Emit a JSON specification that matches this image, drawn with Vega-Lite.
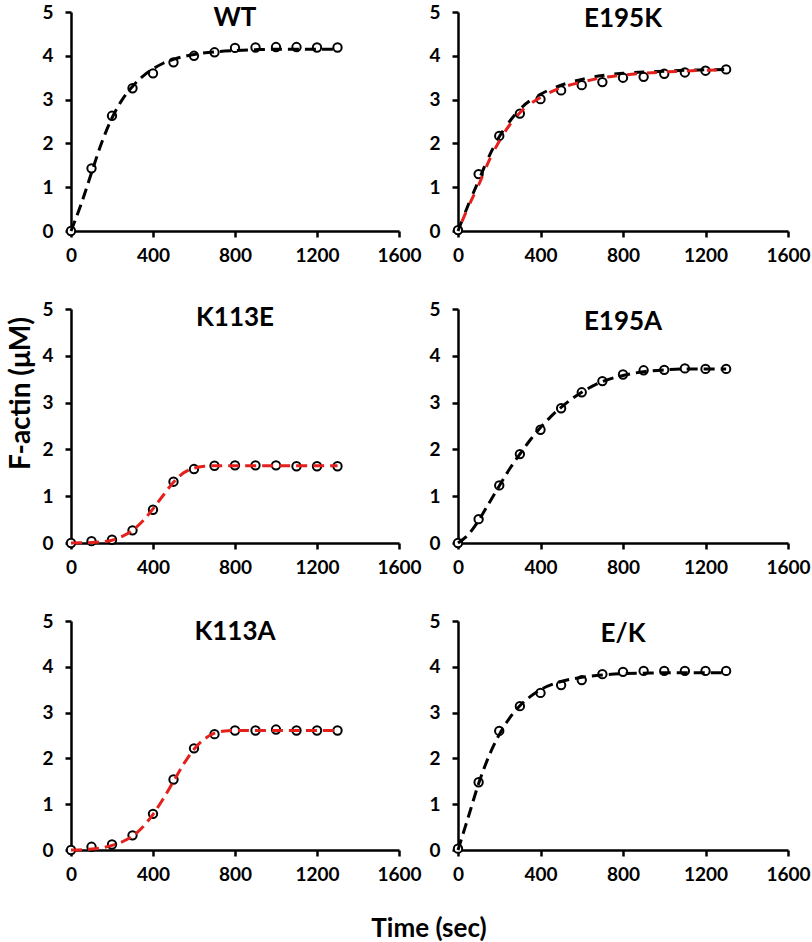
{
"$schema": "https://vega.github.io/schema/vega-lite/v6.json",
"padding": {"left": 7, "top": 3, "right": 2, "bottom": 0},
"background": "white",
"datasets": {
"titles": [{"panel":"WT"},{"panel":"E195K"},{"panel":"K113E"},{"panel":"E195A"},{"panel":"K113A"},{"panel":"E/K"}],
"points": [
{"panel":"WT","time":0,"factin":0},{"panel":"WT","time":100,"factin":1.43},{"panel":"WT","time":200,"factin":2.63},{"panel":"WT","time":300,"factin":3.26},{"panel":"WT","time":400,"factin":3.6},{"panel":"WT","time":500,"factin":3.85},{"panel":"WT","time":600,"factin":4.0},{"panel":"WT","time":700,"factin":4.08},{"panel":"WT","time":800,"factin":4.18},{"panel":"WT","time":900,"factin":4.19},{"panel":"WT","time":1000,"factin":4.2},{"panel":"WT","time":1100,"factin":4.2},{"panel":"WT","time":1200,"factin":4.19},{"panel":"WT","time":1300,"factin":4.19},
{"panel":"E195K","time":0,"factin":0.02},{"panel":"E195K","time":100,"factin":1.3},{"panel":"E195K","time":200,"factin":2.17},{"panel":"E195K","time":300,"factin":2.68},{"panel":"E195K","time":400,"factin":3.01},{"panel":"E195K","time":500,"factin":3.21},{"panel":"E195K","time":600,"factin":3.33},{"panel":"E195K","time":700,"factin":3.4},{"panel":"E195K","time":800,"factin":3.5},{"panel":"E195K","time":900,"factin":3.52},{"panel":"E195K","time":1000,"factin":3.59},{"panel":"E195K","time":1100,"factin":3.62},{"panel":"E195K","time":1200,"factin":3.66},{"panel":"E195K","time":1300,"factin":3.69},
{"panel":"K113E","time":0,"factin":0},{"panel":"K113E","time":100,"factin":0.04},{"panel":"K113E","time":200,"factin":0.07},{"panel":"K113E","time":300,"factin":0.27},{"panel":"K113E","time":400,"factin":0.71},{"panel":"K113E","time":500,"factin":1.31},{"panel":"K113E","time":600,"factin":1.58},{"panel":"K113E","time":700,"factin":1.65},{"panel":"K113E","time":800,"factin":1.66},{"panel":"K113E","time":900,"factin":1.66},{"panel":"K113E","time":1000,"factin":1.66},{"panel":"K113E","time":1100,"factin":1.64},{"panel":"K113E","time":1200,"factin":1.64},{"panel":"K113E","time":1300,"factin":1.64},
{"panel":"E195A","time":0,"factin":0},{"panel":"E195A","time":100,"factin":0.51},{"panel":"E195A","time":200,"factin":1.23},{"panel":"E195A","time":300,"factin":1.9},{"panel":"E195A","time":400,"factin":2.42},{"panel":"E195A","time":500,"factin":2.88},{"panel":"E195A","time":600,"factin":3.22},{"panel":"E195A","time":700,"factin":3.46},{"panel":"E195A","time":800,"factin":3.6},{"panel":"E195A","time":900,"factin":3.69},{"panel":"E195A","time":1000,"factin":3.7},{"panel":"E195A","time":1100,"factin":3.73},{"panel":"E195A","time":1200,"factin":3.72},{"panel":"E195A","time":1300,"factin":3.72},
{"panel":"K113A","time":0,"factin":0},{"panel":"K113A","time":100,"factin":0.07},{"panel":"K113A","time":200,"factin":0.12},{"panel":"K113A","time":300,"factin":0.32},{"panel":"K113A","time":400,"factin":0.79},{"panel":"K113A","time":500,"factin":1.54},{"panel":"K113A","time":600,"factin":2.22},{"panel":"K113A","time":700,"factin":2.53},{"panel":"K113A","time":800,"factin":2.61},{"panel":"K113A","time":900,"factin":2.61},{"panel":"K113A","time":1000,"factin":2.63},{"panel":"K113A","time":1100,"factin":2.61},{"panel":"K113A","time":1200,"factin":2.61},{"panel":"K113A","time":1300,"factin":2.61},
{"panel":"E/K","time":0,"factin":0.03},{"panel":"E/K","time":100,"factin":1.48},{"panel":"E/K","time":200,"factin":2.6},{"panel":"E/K","time":300,"factin":3.14},{"panel":"E/K","time":400,"factin":3.43},{"panel":"E/K","time":500,"factin":3.6},{"panel":"E/K","time":600,"factin":3.71},{"panel":"E/K","time":700,"factin":3.84},{"panel":"E/K","time":800,"factin":3.89},{"panel":"E/K","time":900,"factin":3.91},{"panel":"E/K","time":1000,"factin":3.91},{"panel":"E/K","time":1100,"factin":3.91},{"panel":"E/K","time":1200,"factin":3.91},{"panel":"E/K","time":1300,"factin":3.91}
],
"fits": [
{"panel":"WT","curve":"black","time":0,"factin":0},{"panel":"WT","curve":"black","time":50,"factin":0.62},{"panel":"WT","curve":"black","time":100,"factin":1.33},{"panel":"WT","curve":"black","time":150,"factin":2.02},{"panel":"WT","curve":"black","time":200,"factin":2.58},{"panel":"WT","curve":"black","time":250,"factin":3.0},{"panel":"WT","curve":"black","time":300,"factin":3.3},{"panel":"WT","curve":"black","time":350,"factin":3.53},{"panel":"WT","curve":"black","time":400,"factin":3.7},{"panel":"WT","curve":"black","time":450,"factin":3.83},{"panel":"WT","curve":"black","time":500,"factin":3.92},{"panel":"WT","curve":"black","time":600,"factin":4.03},{"panel":"WT","curve":"black","time":700,"factin":4.09},{"panel":"WT","curve":"black","time":800,"factin":4.12},{"panel":"WT","curve":"black","time":900,"factin":4.14},{"panel":"WT","curve":"black","time":1000,"factin":4.15},{"panel":"WT","curve":"black","time":1100,"factin":4.15},{"panel":"WT","curve":"black","time":1200,"factin":4.15},{"panel":"WT","curve":"black","time":1300,"factin":4.15},
{"panel":"E195K","curve":"black","time":0,"factin":0},{"panel":"E195K","curve":"black","time":50,"factin":0.6},{"panel":"E195K","curve":"black","time":100,"factin":1.15},{"panel":"E195K","curve":"black","time":150,"factin":1.7},{"panel":"E195K","curve":"black","time":200,"factin":2.15},{"panel":"E195K","curve":"black","time":250,"factin":2.5},{"panel":"E195K","curve":"black","time":300,"factin":2.78},{"panel":"E195K","curve":"black","time":400,"factin":3.12},{"panel":"E195K","curve":"black","time":500,"factin":3.33},{"panel":"E195K","curve":"black","time":600,"factin":3.46},{"panel":"E195K","curve":"black","time":700,"factin":3.55},{"panel":"E195K","curve":"black","time":800,"factin":3.6},{"panel":"E195K","curve":"black","time":900,"factin":3.63},{"panel":"E195K","curve":"black","time":1000,"factin":3.65},{"panel":"E195K","curve":"black","time":1100,"factin":3.67},{"panel":"E195K","curve":"black","time":1200,"factin":3.68},{"panel":"E195K","curve":"black","time":1300,"factin":3.69},
{"panel":"E195K","curve":"red","time":0,"factin":0},{"panel":"E195K","curve":"red","time":50,"factin":0.55},{"panel":"E195K","curve":"red","time":100,"factin":1.05},{"panel":"E195K","curve":"red","time":150,"factin":1.6},{"panel":"E195K","curve":"red","time":200,"factin":2.05},{"panel":"E195K","curve":"red","time":250,"factin":2.42},{"panel":"E195K","curve":"red","time":300,"factin":2.7},{"panel":"E195K","curve":"red","time":400,"factin":3.05},{"panel":"E195K","curve":"red","time":500,"factin":3.27},{"panel":"E195K","curve":"red","time":600,"factin":3.4},{"panel":"E195K","curve":"red","time":700,"factin":3.5},{"panel":"E195K","curve":"red","time":800,"factin":3.56},{"panel":"E195K","curve":"red","time":900,"factin":3.6},{"panel":"E195K","curve":"red","time":1000,"factin":3.63},{"panel":"E195K","curve":"red","time":1100,"factin":3.65},{"panel":"E195K","curve":"red","time":1200,"factin":3.67},{"panel":"E195K","curve":"red","time":1300,"factin":3.68},
{"panel":"K113E","curve":"red","time":0,"factin":0},{"panel":"K113E","curve":"red","time":100,"factin":0.01},{"panel":"K113E","curve":"red","time":200,"factin":0.06},{"panel":"K113E","curve":"red","time":250,"factin":0.14},{"panel":"K113E","curve":"red","time":300,"factin":0.27},{"panel":"K113E","curve":"red","time":350,"factin":0.47},{"panel":"K113E","curve":"red","time":400,"factin":0.73},{"panel":"K113E","curve":"red","time":450,"factin":1.02},{"panel":"K113E","curve":"red","time":500,"factin":1.3},{"panel":"K113E","curve":"red","time":550,"factin":1.5},{"panel":"K113E","curve":"red","time":600,"factin":1.6},{"panel":"K113E","curve":"red","time":650,"factin":1.64},{"panel":"K113E","curve":"red","time":700,"factin":1.65},{"panel":"K113E","curve":"red","time":800,"factin":1.65},{"panel":"K113E","curve":"red","time":900,"factin":1.65},{"panel":"K113E","curve":"red","time":1000,"factin":1.65},{"panel":"K113E","curve":"red","time":1100,"factin":1.65},{"panel":"K113E","curve":"red","time":1200,"factin":1.65},{"panel":"K113E","curve":"red","time":1300,"factin":1.65},
{"panel":"E195A","curve":"black","time":0,"factin":0},{"panel":"E195A","curve":"black","time":50,"factin":0.18},{"panel":"E195A","curve":"black","time":100,"factin":0.48},{"panel":"E195A","curve":"black","time":150,"factin":0.85},{"panel":"E195A","curve":"black","time":200,"factin":1.22},{"panel":"E195A","curve":"black","time":250,"factin":1.58},{"panel":"E195A","curve":"black","time":300,"factin":1.9},{"panel":"E195A","curve":"black","time":350,"factin":2.2},{"panel":"E195A","curve":"black","time":400,"factin":2.47},{"panel":"E195A","curve":"black","time":450,"factin":2.7},{"panel":"E195A","curve":"black","time":500,"factin":2.9},{"panel":"E195A","curve":"black","time":600,"factin":3.22},{"panel":"E195A","curve":"black","time":700,"factin":3.45},{"panel":"E195A","curve":"black","time":800,"factin":3.58},{"panel":"E195A","curve":"black","time":900,"factin":3.66},{"panel":"E195A","curve":"black","time":1000,"factin":3.7},{"panel":"E195A","curve":"black","time":1100,"factin":3.72},{"panel":"E195A","curve":"black","time":1200,"factin":3.72},{"panel":"E195A","curve":"black","time":1300,"factin":3.72},
{"panel":"K113A","curve":"red","time":0,"factin":0},{"panel":"K113A","curve":"red","time":100,"factin":0.02},{"panel":"K113A","curve":"red","time":200,"factin":0.1},{"panel":"K113A","curve":"red","time":250,"factin":0.18},{"panel":"K113A","curve":"red","time":300,"factin":0.3},{"panel":"K113A","curve":"red","time":350,"factin":0.5},{"panel":"K113A","curve":"red","time":400,"factin":0.78},{"panel":"K113A","curve":"red","time":450,"factin":1.12},{"panel":"K113A","curve":"red","time":500,"factin":1.5},{"panel":"K113A","curve":"red","time":550,"factin":1.88},{"panel":"K113A","curve":"red","time":600,"factin":2.2},{"panel":"K113A","curve":"red","time":650,"factin":2.42},{"panel":"K113A","curve":"red","time":700,"factin":2.55},{"panel":"K113A","curve":"red","time":750,"factin":2.6},{"panel":"K113A","curve":"red","time":800,"factin":2.61},{"panel":"K113A","curve":"red","time":900,"factin":2.61},{"panel":"K113A","curve":"red","time":1000,"factin":2.61},{"panel":"K113A","curve":"red","time":1100,"factin":2.61},{"panel":"K113A","curve":"red","time":1200,"factin":2.61},{"panel":"K113A","curve":"red","time":1300,"factin":2.61},
{"panel":"E/K","curve":"black","time":0,"factin":0},{"panel":"E/K","curve":"black","time":50,"factin":0.72},{"panel":"E/K","curve":"black","time":100,"factin":1.45},{"panel":"E/K","curve":"black","time":150,"factin":2.05},{"panel":"E/K","curve":"black","time":200,"factin":2.52},{"panel":"E/K","curve":"black","time":250,"factin":2.88},{"panel":"E/K","curve":"black","time":300,"factin":3.15},{"panel":"E/K","curve":"black","time":350,"factin":3.35},{"panel":"E/K","curve":"black","time":400,"factin":3.5},{"panel":"E/K","curve":"black","time":500,"factin":3.68},{"panel":"E/K","curve":"black","time":600,"factin":3.77},{"panel":"E/K","curve":"black","time":700,"factin":3.82},{"panel":"E/K","curve":"black","time":800,"factin":3.85},{"panel":"E/K","curve":"black","time":900,"factin":3.86},{"panel":"E/K","curve":"black","time":1000,"factin":3.87},{"panel":"E/K","curve":"black","time":1100,"factin":3.87},{"panel":"E/K","curve":"black","time":1200,"factin":3.87},{"panel":"E/K","curve":"black","time":1300,"factin":3.87}
]
},
"title": {"text": "Time (sec)", "orient": "bottom", "anchor": "middle", "frame": "bounds", "offset": 32, "dx": 20, "fontSize": 26, "font": "Lato", "fontWeight": "bold", "color": "black"},
"columns": 2,
"bounds": "flush",
"spacing": {"row": 78, "column": 59},
"concat": [
{"width": 328, "height": 219,
 "layer": [
  {"data": {"name": "points"}, "transform": [{"filter": "datum.panel === 'WT'"}], "mark": {"type": "point", "shape": "circle", "filled": true, "fill": "white", "stroke": "black", "strokeWidth": 2, "size": 70, "opacity": 1},
   "encoding": {"x": {"field": "time", "type": "quantitative", "scale": {"domain": [0, 1600], "nice": false}, "axis": {"values": [0, 400, 800, 1200, 1600], "format": "d", "title": null}}, "y": {"field": "factin", "type": "quantitative", "scale": {"domain": [0, 5]}, "axis": {"values": [0, 1, 2, 3, 4, 5], "title": null}}}},
  {"data": {"name": "fits"}, "transform": [{"filter": "datum.panel === 'WT' && datum.curve === 'black'"}], "mark": {"type": "line", "color": "black", "strokeWidth": 3, "strokeDash": [11, 6], "interpolate": "monotone"},
   "encoding": {"x": {"field": "time", "type": "quantitative"}, "y": {"field": "factin", "type": "quantitative"}}},
  {"data": {"name": "titles"}, "transform": [{"filter": "datum.panel === 'WT'"}], "mark": {"type": "text", "baseline": "top", "align": "center", "font": "Lato", "fontSize": 26, "fontWeight": "bold", "fill": "black", "dy": -7},
   "encoding": {"x": {"datum": 800, "type": "quantitative"}, "y": {"datum": 5, "type": "quantitative"}, "text": {"field": "panel", "type": "nominal"}}}
 ]},
{"width": 330, "height": 219,
 "layer": [
  {"data": {"name": "points"}, "transform": [{"filter": "datum.panel === 'E195K'"}], "mark": {"type": "point", "shape": "circle", "filled": true, "fill": "white", "stroke": "black", "strokeWidth": 2, "size": 70, "opacity": 1},
   "encoding": {"x": {"field": "time", "type": "quantitative", "scale": {"domain": [0, 1600], "nice": false}, "axis": {"values": [0, 400, 800, 1200, 1600], "format": "d", "title": null}}, "y": {"field": "factin", "type": "quantitative", "scale": {"domain": [0, 5]}, "axis": {"values": [0, 1, 2, 3, 4, 5], "title": null}}}},
  {"data": {"name": "fits"}, "transform": [{"filter": "datum.panel === 'E195K' && datum.curve === 'black'"}], "mark": {"type": "line", "color": "black", "strokeWidth": 3, "strokeDash": [10, 10], "interpolate": "monotone"},
   "encoding": {"x": {"field": "time", "type": "quantitative"}, "y": {"field": "factin", "type": "quantitative"}}},
  {"data": {"name": "fits"}, "transform": [{"filter": "datum.panel === 'E195K' && datum.curve === 'red'"}], "mark": {"type": "line", "color": "#e3201b", "strokeWidth": 3, "strokeDash": [10, 10], "strokeDashOffset": 10, "interpolate": "monotone"},
   "encoding": {"x": {"field": "time", "type": "quantitative"}, "y": {"field": "factin", "type": "quantitative"}}},
  {"data": {"name": "titles"}, "transform": [{"filter": "datum.panel === 'E195K'"}], "mark": {"type": "text", "baseline": "top", "align": "center", "font": "Lato", "fontSize": 26, "fontWeight": "bold", "fill": "black", "dy": -6},
   "encoding": {"x": {"datum": 800, "type": "quantitative"}, "y": {"datum": 5, "type": "quantitative"}, "text": {"field": "panel", "type": "nominal"}}}
 ]},
{"width": 328, "height": 234,
 "layer": [
  {"data": {"name": "points"}, "transform": [{"filter": "datum.panel === 'K113E'"}], "mark": {"type": "point", "shape": "circle", "filled": true, "fill": "white", "stroke": "black", "strokeWidth": 2, "size": 70, "opacity": 1},
   "encoding": {"x": {"field": "time", "type": "quantitative", "scale": {"domain": [0, 1600], "nice": false}, "axis": {"values": [0, 400, 800, 1200, 1600], "format": "d", "title": null}}, "y": {"field": "factin", "type": "quantitative", "scale": {"domain": [0, 5]}, "axis": {"values": [0, 1, 2, 3, 4, 5], "title": "F-actin (μM)", "titleY": 84, "titleFontSize": 28, "titlePadding": 6}}}},
  {"data": {"name": "fits"}, "transform": [{"filter": "datum.panel === 'K113E' && datum.curve === 'red'"}], "mark": {"type": "line", "color": "#e3201b", "strokeWidth": 3, "strokeDash": [11, 6], "interpolate": "monotone"},
   "encoding": {"x": {"field": "time", "type": "quantitative"}, "y": {"field": "factin", "type": "quantitative"}}},
  {"data": {"name": "titles"}, "transform": [{"filter": "datum.panel === 'K113E'"}], "mark": {"type": "text", "baseline": "top", "align": "center", "font": "Lato", "fontSize": 26, "fontWeight": "bold", "fill": "black", "dy": -4},
   "encoding": {"x": {"datum": 800, "type": "quantitative"}, "y": {"datum": 5, "type": "quantitative"}, "text": {"field": "panel", "type": "nominal"}}}
 ]},
{"width": 330, "height": 234,
 "layer": [
  {"data": {"name": "points"}, "transform": [{"filter": "datum.panel === 'E195A'"}], "mark": {"type": "point", "shape": "circle", "filled": true, "fill": "white", "stroke": "black", "strokeWidth": 2, "size": 70, "opacity": 1},
   "encoding": {"x": {"field": "time", "type": "quantitative", "scale": {"domain": [0, 1600], "nice": false}, "axis": {"values": [0, 400, 800, 1200, 1600], "format": "d", "title": null}}, "y": {"field": "factin", "type": "quantitative", "scale": {"domain": [0, 5]}, "axis": {"values": [0, 1, 2, 3, 4, 5], "title": null}}}},
  {"data": {"name": "fits"}, "transform": [{"filter": "datum.panel === 'E195A' && datum.curve === 'black'"}], "mark": {"type": "line", "color": "black", "strokeWidth": 3, "strokeDash": [11, 6], "interpolate": "monotone"},
   "encoding": {"x": {"field": "time", "type": "quantitative"}, "y": {"field": "factin", "type": "quantitative"}}},
  {"data": {"name": "titles"}, "transform": [{"filter": "datum.panel === 'E195A'"}], "mark": {"type": "text", "baseline": "top", "align": "center", "font": "Lato", "fontSize": 26, "fontWeight": "bold", "fill": "black", "dy": 0},
   "encoding": {"x": {"datum": 800, "type": "quantitative"}, "y": {"datum": 5, "type": "quantitative"}, "text": {"field": "panel", "type": "nominal"}}}
 ]},
{"width": 328, "height": 229,
 "layer": [
  {"data": {"name": "points"}, "transform": [{"filter": "datum.panel === 'K113A'"}], "mark": {"type": "point", "shape": "circle", "filled": true, "fill": "white", "stroke": "black", "strokeWidth": 2, "size": 70, "opacity": 1},
   "encoding": {"x": {"field": "time", "type": "quantitative", "scale": {"domain": [0, 1600], "nice": false}, "axis": {"values": [0, 400, 800, 1200, 1600], "format": "d", "title": null}}, "y": {"field": "factin", "type": "quantitative", "scale": {"domain": [0, 5]}, "axis": {"values": [0, 1, 2, 3, 4, 5], "title": null}}}},
  {"data": {"name": "fits"}, "transform": [{"filter": "datum.panel === 'K113A' && datum.curve === 'red'"}], "mark": {"type": "line", "color": "#e3201b", "strokeWidth": 3, "strokeDash": [11, 6], "interpolate": "monotone"},
   "encoding": {"x": {"field": "time", "type": "quantitative"}, "y": {"field": "factin", "type": "quantitative"}}},
  {"data": {"name": "titles"}, "transform": [{"filter": "datum.panel === 'K113A'"}], "mark": {"type": "text", "baseline": "top", "align": "center", "font": "Lato", "fontSize": 26, "fontWeight": "bold", "fill": "black", "dy": -2},
   "encoding": {"x": {"datum": 800, "type": "quantitative"}, "y": {"datum": 5, "type": "quantitative"}, "text": {"field": "panel", "type": "nominal"}}}
 ]},
{"width": 330, "height": 229,
 "layer": [
  {"data": {"name": "points"}, "transform": [{"filter": "datum.panel === 'E/K'"}], "mark": {"type": "point", "shape": "circle", "filled": true, "fill": "white", "stroke": "black", "strokeWidth": 2, "size": 70, "opacity": 1},
   "encoding": {"x": {"field": "time", "type": "quantitative", "scale": {"domain": [0, 1600], "nice": false}, "axis": {"values": [0, 400, 800, 1200, 1600], "format": "d", "title": null}}, "y": {"field": "factin", "type": "quantitative", "scale": {"domain": [0, 5]}, "axis": {"values": [0, 1, 2, 3, 4, 5], "title": null}}}},
  {"data": {"name": "fits"}, "transform": [{"filter": "datum.panel === 'E/K' && datum.curve === 'black'"}], "mark": {"type": "line", "color": "black", "strokeWidth": 3, "strokeDash": [11, 6], "interpolate": "monotone"},
   "encoding": {"x": {"field": "time", "type": "quantitative"}, "y": {"field": "factin", "type": "quantitative"}}},
  {"data": {"name": "titles"}, "transform": [{"filter": "datum.panel === 'E/K'"}], "mark": {"type": "text", "baseline": "top", "align": "center", "font": "Lato", "fontSize": 26, "fontWeight": "bold", "fill": "black", "dy": 0},
   "encoding": {"x": {"datum": 800, "type": "quantitative"}, "y": {"datum": 5, "type": "quantitative"}, "text": {"field": "panel", "type": "nominal"}}}
 ]}
],
"config": {
 "font": "Lato",
 "view": {"stroke": null},
 "axis": {"grid": false, "labelFlush": false, "domainColor": "black", "domainWidth": 2.5, "tickColor": "black", "tickWidth": 2.5, "tickSize": 6, "labelFont": "Lato", "labelFontSize": 19, "labelFontWeight": "bold", "labelColor": "black", "titleFont": "Lato", "titleFontSize": 28, "titleFontWeight": "bold", "titleColor": "black"},
 "axisY": {"labelPadding": 12, "titlePadding": 8},
 "axisX": {"labelPadding": 9},
 "title": {"font": "Lato", "fontSize": 26, "fontWeight": "bold", "color": "black"}
}
}
